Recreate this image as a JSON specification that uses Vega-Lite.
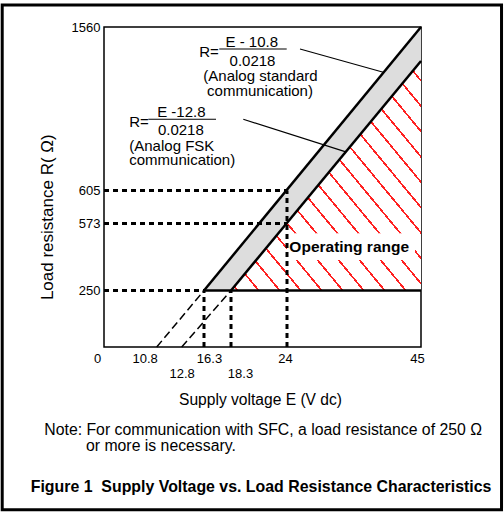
{
  "$schema": "https://vega.github.io/schema/vega-lite/v6.json",
  "width": 317,
  "height": 320,
  "autosize": {"type": "none"},
  "padding": {"left": 104, "top": 27, "right": 83, "bottom": 168},
  "background": "white",
  "config": {
    "view": {"stroke": "black", "strokeWidth": 1.5},
    "font": "Liberation Sans"
  },
  "datasets": {
    "band": [
      {"x": 16.3, "y": 250, "y2": 250},
      {"x": 18.3, "y": 408, "y2": 250},
      {"x": 45, "y": 1560, "y2": 1361}
    ],
    "zone": [
      {"x": 18.3, "y": 250, "y2": 250},
      {"x": 45, "y": 1361, "y2": 250}
    ],
    "box": [{"x": 24, "x2": 44.06, "y": 525.8, "y2": 397}],
    "zoneLabel": [{"x": 33.75, "y": 437.1, "text": "Operating range"}],
    "guides": [
      {"x": 0, "y": 605, "x2": 24, "y2": 605},
      {"x": 0, "y": 573, "x2": 24, "y2": 573},
      {"x": 0, "y": 250, "x2": 16.3, "y2": 250},
      {"x": 24, "y": 0, "x2": 24, "y2": 605},
      {"x": 16.3, "y": 0, "x2": 16.3, "y2": 250},
      {"x": 18.3, "y": 0, "x2": 18.3, "y2": 250}
    ],
    "extensions": [
      {"x": 10.8, "y": 0, "x2": 16.3, "y2": 250},
      {"x": 12.8, "y": 0, "x2": 18.3, "y2": 250}
    ],
    "limits": [
      {"x": 16.3, "y": 250, "x2": 45, "y2": 1560},
      {"x": 18.3, "y": 250, "x2": 45, "y2": 1361},
      {"x": 16.3, "y": 250, "x2": 45, "y2": 250}
    ],
    "leaders": [
      {"x": 26.04, "y": 1431.5, "x2": 39.09, "y2": 1295.4},
      {"x": 17.43, "y": 1431.5, "x2": 23.97, "y2": 1431.5},
      {"x": 19.55, "y": 1020.9, "x2": 33.1, "y2": 832},
      {"x": 9.08, "y": 1020.9, "x2": 17.19, "y2": 1020.9}
    ],
    "formulaCenter": [
      {"x": 20.41, "y": 1444.9, "text": "E - 10.8"},
      {"x": 20.49, "y": 1332.2, "text": "0.0218"},
      {"x": 21.3, "y": 1246.3, "text": "(Analog standard"},
      {"x": 21.25, "y": 1158.7, "text": "communication)"},
      {"x": 12.77, "y": 1032.6, "text": "E -12.8"},
      {"x": 12.73, "y": 929.2, "text": "0.0218"}
    ],
    "formulaLeft": [
      {"x": 15.56, "y": 1386.5, "text": "R="},
      {"x": 5.18, "y": 977.7, "text": "R="},
      {"x": 5.18, "y": 837.5, "text": "(Analog FSK"},
      {"x": 5.18, "y": 753.9, "text": "communication)"}
    ],
    "notes": [
      {"x": -12.23, "y": -389.4, "text": "Note: For communication with SFC, a load resistance of 250 Ω"},
      {"x": -3.69, "y": -460.2, "text": "or more is necessary."}
    ],
    "caption": [
      {"x": -15.02, "y": -642.9, "text": "Figure 1\u00a0 Supply Voltage vs. Load Resistance Characteristics"}
    ],
    "frame": [{"x": -20.86, "x2": 57.62, "y": 1688.5, "y2": -719.9}]
  },
  "encoding": {
    "x": {
      "field": "x",
      "type": "quantitative",
      "scale": {"domain": [0, 10.8, 12.8, 16.3, 18.3, 24, 45], "range": [0, 52.7, 77.7, 100, 127, 183, 317], "zero": false, "nice": false},
      "axis": {
        "values": [0, 10.8, 12.8, 16.3, 18.3, 24, 45],
        "format": ".1~f",
        "labelExpr": "datum.value == 12.8 || datum.value == 18.3 ? ['', datum.label] : datum.label",
        "labelLineHeight": 15,
        "labelPadding": 5,
        "labelFontSize": 13,
        "labelFont": "Liberation Sans",
        "labelColor": "black",
        "labelOverlap": false,
        "labelFlush": false,
        "labelBound": false,
        "labelOffset": {
          "condition": [
            {"test": "datum.value === 0", "value": -7},
            {"test": "datum.value === 10.8", "value": -12},
            {"test": "datum.value === 16.3", "value": 5},
            {"test": "datum.value === 18.3", "value": 9},
            {"test": "datum.value === 24", "value": -2},
            {"test": "datum.value === 45", "value": -4}
          ],
          "value": 0
        },
        "ticks": false,
        "tickSize": 0,
        "domain": false,
        "grid": false,
        "title": "Supply voltage E (V dc)",
        "titleFont": "Liberation Sans",
        "titleFontSize": 15.6,
        "titleFontWeight": "normal",
        "titleColor": "black",
        "titleX": 156,
        "titleY": 57,
        "titleBaseline": "alphabetic",
        "titleAlign": "center"
      }
    },
    "y": {
      "field": "y",
      "type": "quantitative",
      "scale": {"domain": [0, 250, 573, 605, 1560], "range": [320, 263.5, 196.5, 163.5, 0], "zero": false, "nice": false},
      "axis": {
        "values": [250, 573, 605, 1560],
        "format": "d",
        "labelFontSize": 13,
        "labelFont": "Liberation Sans",
        "labelColor": "black",
        "labelPadding": 4,
        "labelOverlap": false,
        "labelFlush": false,
        "ticks": false,
        "tickSize": 0,
        "domain": false,
        "grid": false,
        "title": "Load resistance R( Ω)",
        "titleFont": "Liberation Sans",
        "titleFontSize": 17,
        "titleFontWeight": "normal",
        "titleColor": "black",
        "titleAngle": 270,
        "titleX": -52,
        "titleY": 189.7,
        "titleBaseline": "alphabetic",
        "titleAlign": "center"
      }
    }
  },
  "layer": [
    {
      "data": {"name": "band"},
      "mark": {"type": "area", "color": "#dddddd", "opacity": 1},
      "encoding": {"y2": {"field": "y2"}}
    },
    {
      "data": {"name": "zone"},
      "mark": {
        "type": "area",
        "opacity": 1,
        "fill": {
          "gradient": "linear", "x1": 0, "y1": 1, "x2": 1, "y2": 0,
          "stops": [
            {"offset": 0, "color": "white"},
            {"offset": 0.0148, "color": "white"}, {"offset": 0.0148, "color": "#f22"}, {"offset": 0.0208, "color": "#f22"}, {"offset": 0.0208, "color": "white"},
            {"offset": 0.0701, "color": "white"}, {"offset": 0.0701, "color": "#f22"}, {"offset": 0.0761, "color": "#f22"}, {"offset": 0.0761, "color": "white"},
            {"offset": 0.1253, "color": "white"}, {"offset": 0.1253, "color": "#f22"}, {"offset": 0.1313, "color": "#f22"}, {"offset": 0.1313, "color": "white"},
            {"offset": 0.1806, "color": "white"}, {"offset": 0.1806, "color": "#f22"}, {"offset": 0.1866, "color": "#f22"}, {"offset": 0.1866, "color": "white"},
            {"offset": 0.2358, "color": "white"}, {"offset": 0.2358, "color": "#f22"}, {"offset": 0.2418, "color": "#f22"}, {"offset": 0.2418, "color": "white"},
            {"offset": 0.2911, "color": "white"}, {"offset": 0.2911, "color": "#f22"}, {"offset": 0.2971, "color": "#f22"}, {"offset": 0.2971, "color": "white"},
            {"offset": 0.3464, "color": "white"}, {"offset": 0.3464, "color": "#f22"}, {"offset": 0.3524, "color": "#f22"}, {"offset": 0.3524, "color": "white"},
            {"offset": 0.4016, "color": "white"}, {"offset": 0.4016, "color": "#f22"}, {"offset": 0.4076, "color": "#f22"}, {"offset": 0.4076, "color": "white"},
            {"offset": 0.4569, "color": "white"}, {"offset": 0.4569, "color": "#f22"}, {"offset": 0.4629, "color": "#f22"}, {"offset": 0.4629, "color": "white"},
            {"offset": 0.5121, "color": "white"}, {"offset": 0.5121, "color": "#f22"}, {"offset": 0.5181, "color": "#f22"}, {"offset": 0.5181, "color": "white"},
            {"offset": 0.5674, "color": "white"}, {"offset": 0.5674, "color": "#f22"}, {"offset": 0.5734, "color": "#f22"}, {"offset": 0.5734, "color": "white"},
            {"offset": 0.6227, "color": "white"}, {"offset": 0.6227, "color": "#f22"}, {"offset": 0.6287, "color": "#f22"}, {"offset": 0.6287, "color": "white"},
            {"offset": 0.6779, "color": "white"}, {"offset": 0.6779, "color": "#f22"}, {"offset": 0.6839, "color": "#f22"}, {"offset": 0.6839, "color": "white"},
            {"offset": 0.7332, "color": "white"}, {"offset": 0.7332, "color": "#f22"}, {"offset": 0.7392, "color": "#f22"}, {"offset": 0.7392, "color": "white"},
            {"offset": 0.7884, "color": "white"}, {"offset": 0.7884, "color": "#f22"}, {"offset": 0.7944, "color": "#f22"}, {"offset": 0.7944, "color": "white"},
            {"offset": 0.8437, "color": "white"}, {"offset": 0.8437, "color": "#f22"}, {"offset": 0.8497, "color": "#f22"}, {"offset": 0.8497, "color": "white"},
            {"offset": 0.899, "color": "white"}, {"offset": 0.899, "color": "#f22"}, {"offset": 0.905, "color": "#f22"}, {"offset": 0.905, "color": "white"},
            {"offset": 0.9542, "color": "white"}, {"offset": 0.9542, "color": "#f22"}, {"offset": 0.9602, "color": "#f22"}, {"offset": 0.9602, "color": "white"},
            {"offset": 1, "color": "white"}
          ]
        }
      },
      "encoding": {"y2": {"field": "y2"}}
    },
    {
      "data": {"name": "box"},
      "mark": {"type": "rect", "fill": "white", "opacity": 1},
      "encoding": {"x2": {"field": "x2"}, "y2": {"field": "y2"}}
    },
    {
      "data": {"name": "zoneLabel"},
      "mark": {"type": "text", "font": "Liberation Sans", "fontSize": 15.5, "fontWeight": "bold", "color": "black", "align": "center", "baseline": "alphabetic"},
      "encoding": {"text": {"field": "text"}}
    },
    {
      "data": {"name": "guides"},
      "mark": {"type": "rule", "color": "black", "strokeWidth": 3, "strokeDash": [5, 4]},
      "encoding": {"x2": {"field": "x2"}, "y2": {"field": "y2"}}
    },
    {
      "data": {"name": "extensions"},
      "mark": {"type": "rule", "color": "black", "strokeWidth": 1.5, "strokeDash": [8, 4]},
      "encoding": {"x2": {"field": "x2"}, "y2": {"field": "y2"}}
    },
    {
      "data": {"name": "limits"},
      "mark": {"type": "rule", "color": "black", "strokeWidth": 2.5},
      "encoding": {"x2": {"field": "x2"}, "y2": {"field": "y2"}}
    },
    {
      "data": {"name": "leaders"},
      "mark": {"type": "rule", "color": "black", "strokeWidth": 1.1},
      "encoding": {"x2": {"field": "x2"}, "y2": {"field": "y2"}}
    },
    {
      "data": {"name": "formulaCenter"},
      "mark": {"type": "text", "font": "Liberation Sans", "fontSize": 15, "color": "black", "align": "center", "baseline": "alphabetic"},
      "encoding": {"text": {"field": "text"}}
    },
    {
      "data": {"name": "formulaLeft"},
      "mark": {"type": "text", "font": "Liberation Sans", "fontSize": 15, "color": "black", "align": "left", "baseline": "alphabetic"},
      "encoding": {"text": {"field": "text"}}
    },
    {
      "data": {"name": "notes"},
      "mark": {"type": "text", "font": "Liberation Sans", "fontSize": 15.8, "color": "black", "align": "left", "baseline": "alphabetic"},
      "encoding": {"text": {"field": "text"}}
    },
    {
      "data": {"name": "caption"},
      "mark": {"type": "text", "font": "Liberation Sans", "fontSize": 15.9, "fontWeight": "bold", "color": "black", "align": "left", "baseline": "alphabetic"},
      "encoding": {"text": {"field": "text"}}
    },
    {
      "data": {"name": "frame"},
      "mark": {"type": "rect", "filled": false, "stroke": "black", "strokeWidth": 3},
      "encoding": {"x2": {"field": "x2"}, "y2": {"field": "y2"}}
    }
  ]
}
